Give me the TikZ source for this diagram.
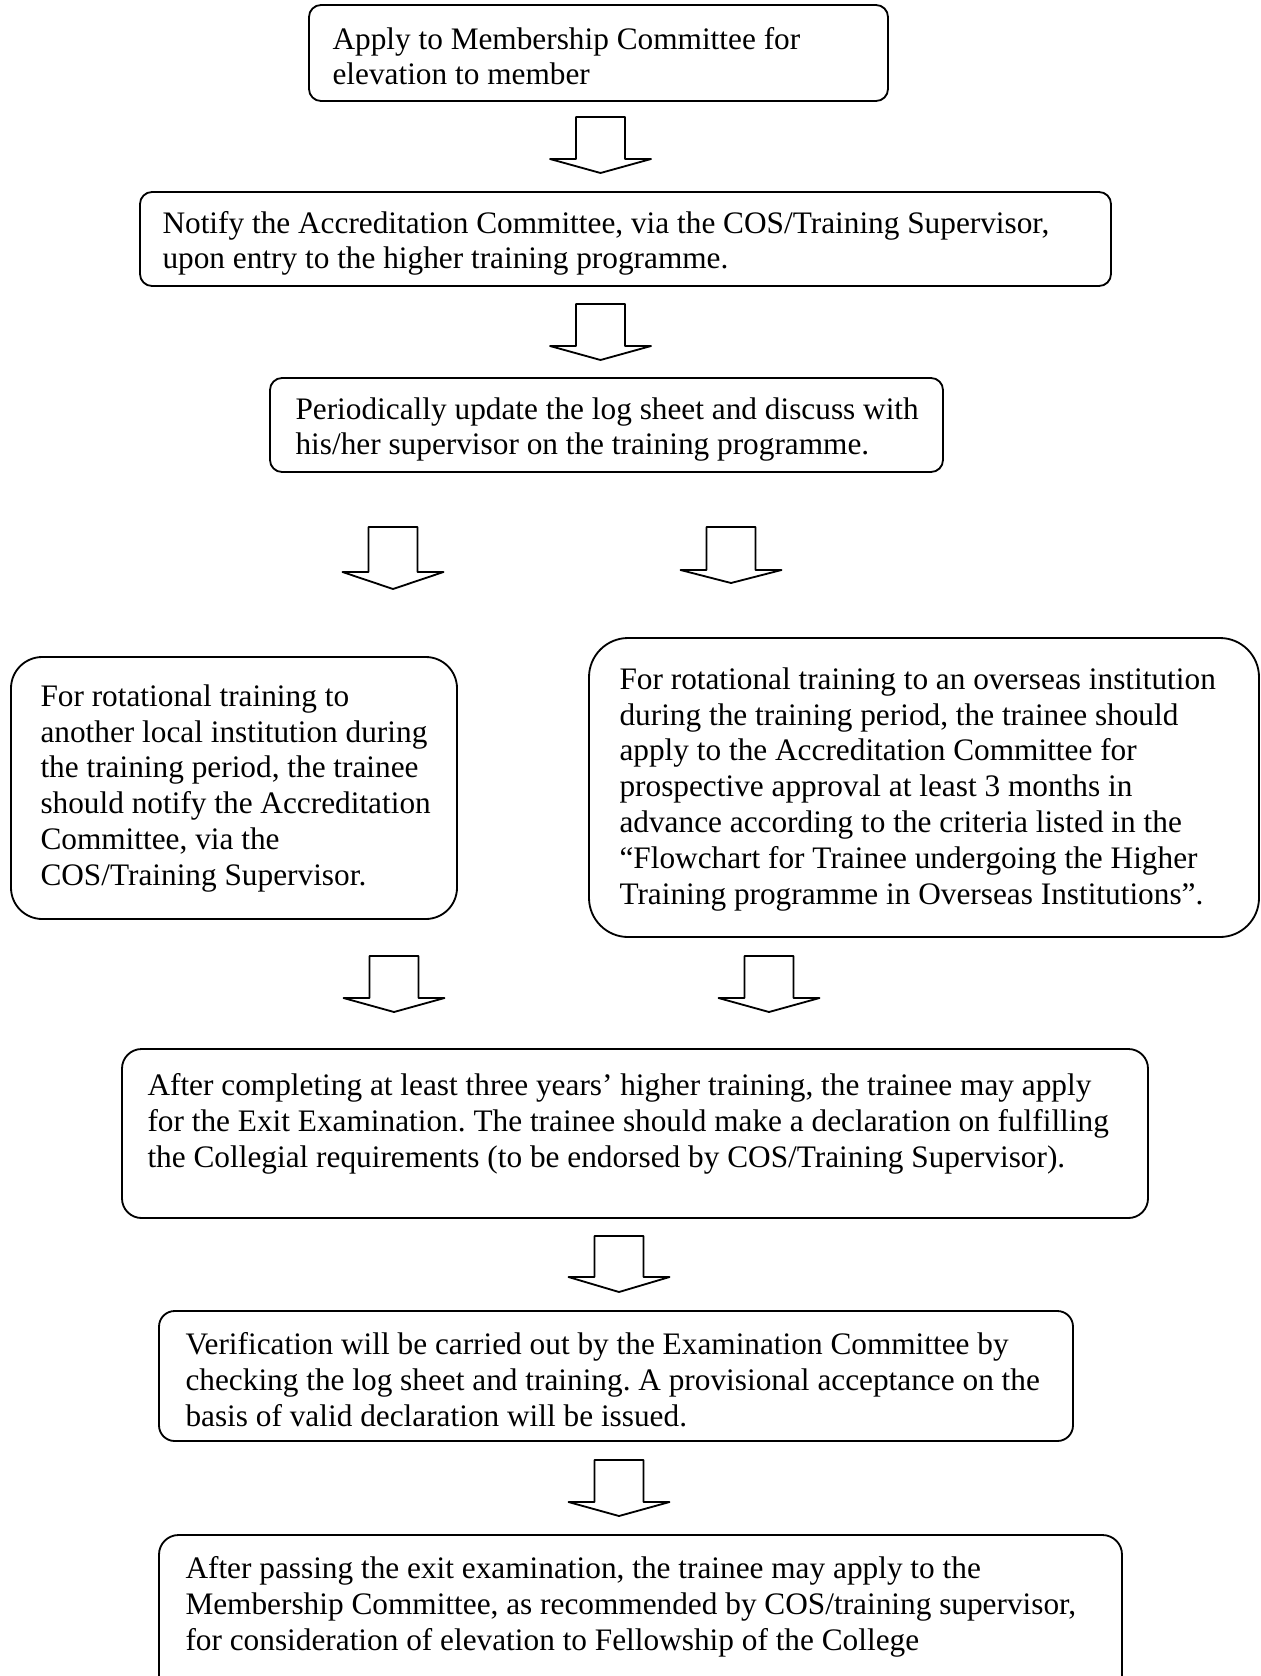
\documentclass[tikz,border=0pt]{standalone}
\usepackage{fontspec}
\setmainfont{Liberation Serif}
\usetikzlibrary{fit}
\tikzset{
  box/.style={draw, line width=0.7pt, inner sep=0pt, rounded corners=#1},
  box/.default=4.6pt,
  txt/.style={anchor=base west, inner sep=0pt, font=\fontsize{12}{13.8}\selectfont},
  arrowline/.style={draw, line width=0.7pt, line join=round}
}
\newcommand\blkarrow[4]{%
  \draw[arrowline] (#1-24.5,#2) -- (#1+24.5,#2) -- (#1+24.5,#3) -- (#1+50.5,#3)
    -- (#1,#4) -- (#1-50.5,#3) -- (#1-24.5,#3) -- cycle;}
\newcommand\lines[1]{\begin{tabular}[t]{@{}l@{}}#1\end{tabular}}
\frenchspacing
\begin{document}
\begin{tikzpicture}[x=0.3834pt, y=-0.3834pt]
\useasboundingbox (0,0) rectangle (1261,1676);
\clip (0,0) rectangle (1261,1676);

% boxes
\node[box, fit={(309,5) (888,101)}] (b1) {};
\node[box, fit={(140,192) (1111,286)}] (b2) {};
\node[box, fit={(270,378) (943,472)}] (b3) {};
\node[box=12pt, fit={(11,657) (457,919)}] (b4) {};
\node[box=15pt, fit={(589,638) (1259,937)}] (b5) {};
\node[box=7.5pt, fit={(122,1049) (1148,1218)}] (b6) {};
\node[box=6pt, fit={(159,1311) (1073,1441)}] (b7) {};
\node[box=7.5pt, fit={(159,1535) (1122,1720)}] (b8) {};

% texts
\node[txt] (t1) at (332,49) {\lines{Apply to Membership Committee for\\ elevation to member}};
\node[txt] (t2) at (162,233) {\lines{Notify the Accreditation Committee, via the COS/Training Supervisor,\\ upon entry to the higher training programme.}};
\node[txt] (t3) at (295,419) {\lines{Periodically update the log sheet and discuss with\\ his/her supervisor on the training programme.}};
\node[txt] (t4) at (40,706) {\lines{For rotational training to\\ another local institution during\\ the training period, the trainee\\ should notify the Accreditation\\ Committee, via the\\ COS/Training Supervisor.}};
\node[txt] (t5) at (619,689) {\lines{For rotational training to an overseas institution\\ during the training period, the trainee should\\ apply to the Accreditation Committee for\\ prospective approval at least 3 months in\\ advance according to the criteria listed in the\\ “Flowchart for Trainee undergoing the Higher\\ Training programme in Overseas Institutions”.}};
\node[txt] (t6) at (147,1095) {\lines{After completing at least three years’ higher training, the trainee may apply\\ for the Exit Examination. The trainee should make a declaration on fulfilling\\ the Collegial requirements (to be endorsed by COS/Training Supervisor).}};
\node[txt] (t7) at (185,1354) {\lines{Verification will be carried out by the Examination Committee by\\ checking the log sheet and training. A provisional acceptance on the\\ basis of valid declaration will be issued.}};
\node[txt] (t8) at (185,1578) {\lines{After passing the exit examination, the trainee may apply to the\\ Membership Committee, as recommended by COS/training supervisor,\\ for consideration of elevation to Fellowship of the College}};

% block arrows
\blkarrow{600.5}{117}{159}{173}
\blkarrow{600.5}{304}{346}{360}
\blkarrow{393}{527}{572}{589}
\blkarrow{731}{527}{570}{583}
\blkarrow{394}{956}{998}{1012}
\blkarrow{769}{956}{998}{1012}
\blkarrow{619}{1236}{1277}{1292}
\blkarrow{619}{1460}{1502}{1516}
\end{tikzpicture}
\end{document}
